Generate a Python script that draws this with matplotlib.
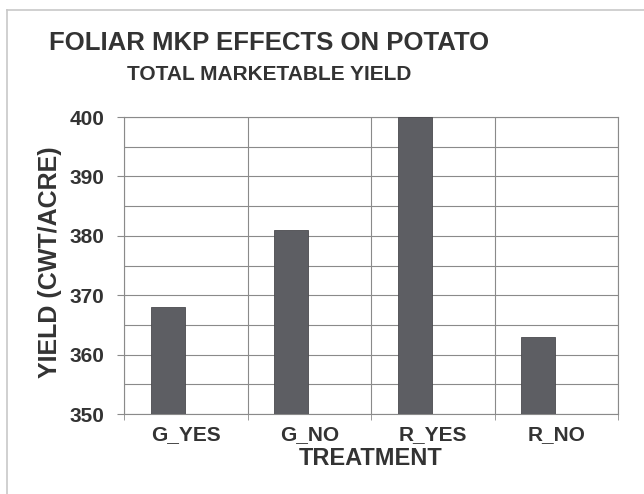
import matplotlib
matplotlib.use("Agg")
import matplotlib.pyplot as plt
from matplotlib.lines import Line2D
import numpy as np

# data
treatments = ["G_YES", "G_NO", "R_YES", "R_NO"]
yields = [368, 381, 400, 363]

plt.rcParams["font.family"] = ["Liberation Sans", "DejaVu Sans"]
plt.rcParams["font.weight"] = "bold"
txt = "#333333"
grid_c = "#8a8a8a"

fig = plt.figure(figsize=(6.44, 4.94), dpi=100)
ax = fig.add_axes([124 / 644, 80 / 494, 494 / 644, 297 / 494])

x = np.arange(len(treatments))
ax.bar(x - 0.285, yields, width=0.275, align="edge",
       color="#5d5e63", edgecolor="#4a4a4e", linewidth=0.6, zorder=3)

ax.set_xlim(-0.5, len(treatments) - 0.5)
ax.set_ylim(350, 400)
ax.set_yticks(np.arange(350, 401, 10))
ax.set_yticks(np.arange(355, 400, 10), minor=True)
ax.set_xticks(x)
ax.set_xticklabels(treatments)
ax.set_xticks(np.arange(-0.5, len(treatments)), minor=True)

ax.grid(True, which="both", axis="y", color=grid_c, linewidth=0.8, zorder=0)
ax.grid(True, which="minor", axis="x", color=grid_c, linewidth=0.8, zorder=0)

ax.tick_params(axis="x", which="major", length=0, pad=8, labelsize=15, labelcolor=txt)
ax.tick_params(axis="x", which="minor", length=4, color=grid_c, direction="out")
ax.tick_params(axis="y", which="major", length=5, color=grid_c, pad=9, labelsize=15, labelcolor=txt)
ax.tick_params(axis="y", which="minor", length=0)

for s in ax.spines.values():
    s.set_color(grid_c)
    s.set_linewidth(0.8)

ax.set_ylabel("YIELD (CWT/ACRE)", fontsize=18, fontweight="bold", color=txt)
ax.yaxis.set_label_coords(-0.125, 0.51)
ax.set_xlabel("TREATMENT", fontsize=17, fontweight="bold", color=txt)
ax.xaxis.set_label_coords(0.5, -0.112)

fig.text(269 / 644, 1 - 50 / 494, "FOLIAR MKP EFFECTS ON POTATO",
         fontsize=18.5, fontweight="bold", color=txt, ha="center", va="baseline")
fig.text(269 / 644, 1 - 80 / 494, "TOTAL MARKETABLE YIELD",
         fontsize=15, fontweight="bold", color=txt, ha="center", va="baseline")

# light frame around the chart
fig.add_artist(Line2D([7 / 644, 7 / 644], [0, 1 - 10 / 494], color="#c8c8c8", linewidth=1.2))
fig.add_artist(Line2D([7 / 644, 1], [1 - 10 / 494, 1 - 10 / 494], color="#c8c8c8", linewidth=1.2))

fig.savefig("out.png", dpi=100)
